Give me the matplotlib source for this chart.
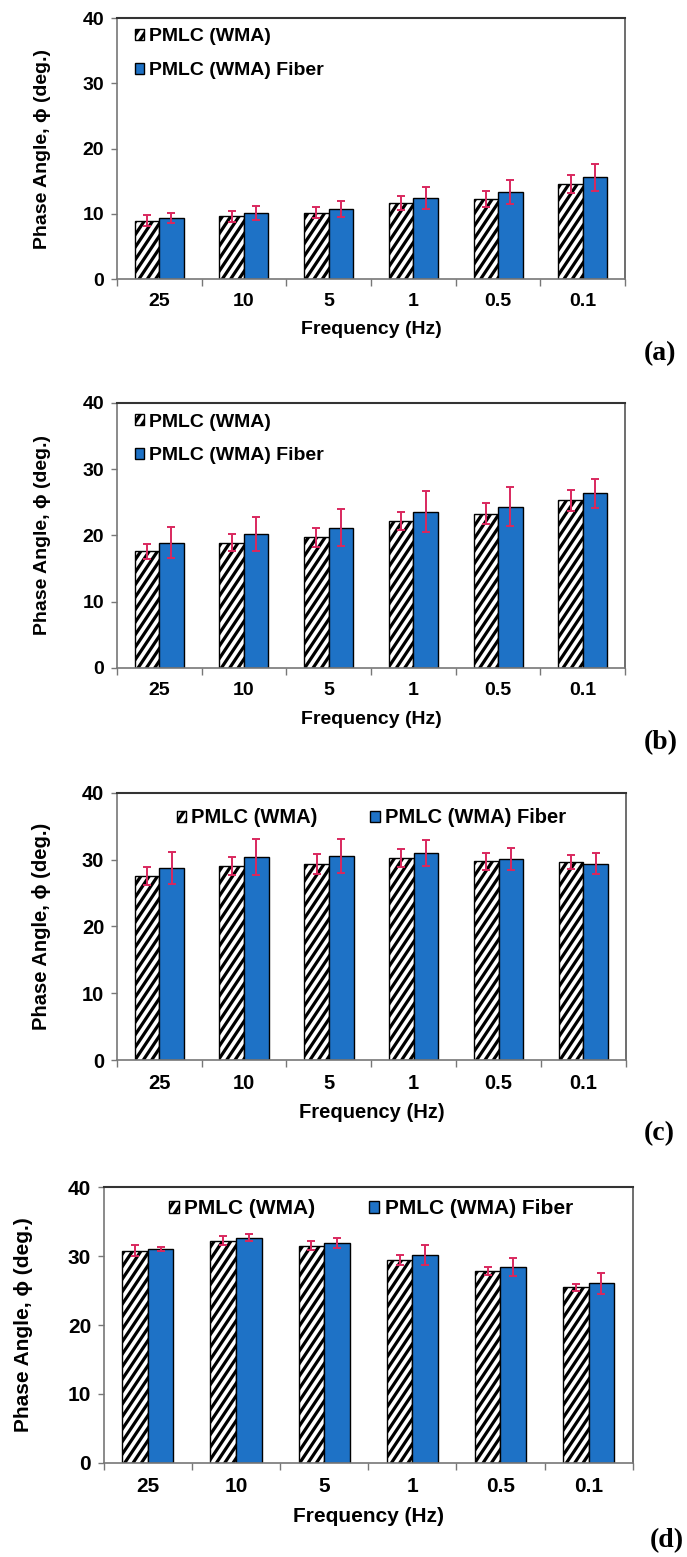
import numpy as np
import matplotlib
matplotlib.use("Agg")
import matplotlib.pyplot as plt
import matplotlib.hatch as mhatch
from matplotlib.path import Path

plt.rcParams['font.family'] = ['Liberation Sans', 'DejaVu Sans']
plt.rcParams['hatch.linewidth'] = 2.3
plt.rcParams['hatch.color'] = 'black'

# Loading frequencies (Hz)
freq_labels = ['25', '10', '5', '1', '0.5', '0.1']
series_names = ['PMLC (WMA)', 'PMLC (WMA) Fiber']

# Panel (a)
a_wma = [8.9, 9.6, 10.15, 11.7, 12.3, 14.55]
a_wma_err = [0.85, 0.85, 0.85, 1.1, 1.2, 1.4]
a_fib = [9.4, 10.15, 10.7, 12.4, 13.35, 15.6]
a_fib_err = [0.75, 1.1, 1.25, 1.7, 1.8, 2.1]

# Panel (b)
b_wma = [17.6, 18.9, 19.7, 22.2, 23.3, 25.3]
b_wma_err = [1.15, 1.3, 1.4, 1.4, 1.6, 1.55]
b_fib = [18.9, 20.25, 21.2, 23.6, 24.35, 26.35]
b_fib_err = [2.35, 2.55, 2.75, 3.1, 2.9, 2.2]

# Panel (c)
c_wma = [27.55, 29.05, 29.35, 30.25, 29.75, 29.65]
c_wma_err = [1.3, 1.4, 1.5, 1.35, 1.25, 1.1]
c_fib = [28.8, 30.45, 30.55, 31.0, 30.15, 29.4]
c_fib_err = [2.4, 2.7, 2.6, 1.9, 1.65, 1.6]

# Panel (d)
d_wma = [30.75, 32.25, 31.5, 29.45, 27.85, 25.45]
d_wma_err = [0.8, 0.6, 0.65, 0.7, 0.55, 0.5]
d_fib = [31.05, 32.65, 31.9, 30.2, 28.4, 26.05]
d_fib_err = [0.25, 0.5, 0.75, 1.45, 1.25, 1.55]

y_ticks = [0, 10, 20, 30, 40]

BLUE = '#1e72c6'
ERR = '#d9285e'


# Steeper "/" hatch (slope 1.5) that still tiles seamlessly in the unit cell
class SteepNorthEastHatch(mhatch.HatchPatternBase):
    slope = 1.5

    def __init__(self, hatch, density):
        self.num_lines = int((hatch.count('/') + hatch.count('x')
                              + hatch.count('X')) * density)
        if self.num_lines:
            self.offsets = np.arange(-self.num_lines, 2 * self.num_lines + 1) / self.num_lines
        else:
            self.offsets = np.array([])
        self.num_vertices = len(self.offsets) * 2

    def set_vertices_and_codes(self, vertices, codes):
        run = 1.0 / self.slope
        ext = 0.2
        c = self.offsets
        vertices[0::2, 0] = c - ext * run
        vertices[0::2, 1] = -ext
        vertices[1::2, 0] = c + (1 + ext) * run
        vertices[1::2, 1] = 1 + ext
        codes[0::2] = Path.MOVETO
        codes[1::2] = Path.LINETO


mhatch._hatch_types = [SteepNorthEastHatch if t is mhatch.NorthEastHatch else t
                       for t in mhatch._hatch_types]

fig = plt.figure(figsize=(6.87, 15.57), dpi=100)


def panel(rect, wma, wma_err, fib, fib_err, letter, letter_xy, legend_cfg,
          ylab_x, fs):
    ax = fig.add_axes(rect)
    x = np.arange(len(freq_labels))
    w = 0.29
    ax.bar(x - w / 2, wma, w, facecolor='white', edgecolor='black',
           linewidth=1.0, hatch='//', label=series_names[0], zorder=2)
    ax.bar(x + w / 2, fib, w, facecolor=BLUE, edgecolor='black',
           linewidth=1.0, label=series_names[1], zorder=2)
    ax.errorbar(x - w / 2, wma, yerr=wma_err, fmt='none', ecolor=ERR,
                elinewidth=1.4, capsize=2.6, capthick=1.4, zorder=3)
    ax.errorbar(x + w / 2, fib, yerr=fib_err, fmt='none', ecolor=ERR,
                elinewidth=1.4, capsize=2.6, capthick=1.4, zorder=3)

    ax.set_xlim(-0.5, len(freq_labels) - 0.5)
    ax.set_ylim(0, 40)
    ax.set_yticks(y_ticks)
    ax.set_yticklabels([str(t) for t in y_ticks], fontsize=fs, fontweight='bold')
    ax.set_xticks(x)
    ax.set_xticklabels(freq_labels, fontsize=fs, fontweight='bold')
    ax.set_xticks(np.arange(-0.5, len(freq_labels)), minor=True)
    ax.tick_params(axis='x', which='major', length=0, pad=10)
    ax.tick_params(axis='x', which='minor', length=5, width=1.0,
                   color='#777777', direction='out')
    ax.tick_params(axis='y', length=4, width=1.0, color='#777777',
                   direction='out', pad=5)

    for side in ('left', 'bottom'):
        ax.spines[side].set_color('#777777')
        ax.spines[side].set_linewidth(1.2)
    ax.spines['top'].set_color('#333333')
    ax.spines['top'].set_linewidth(1.5)
    ax.spines['right'].set_color('#555555')
    ax.spines['right'].set_linewidth(1.2)

    ax.set_ylabel('Phase Angle, \u03d5 (deg.)', fontsize=fs, fontweight='bold',
                  family=['Liberation Sans', 'DejaVu Sans'])
    ax.yaxis.set_label_coords(ylab_x, 0.5)
    ax.set_xlabel('Frequency (Hz)', fontsize=fs, fontweight='bold')
    ax.xaxis.label.set_va('center')
    ax.xaxis.set_label_coords(0.5, -0.195)

    ax.legend(frameon=False, prop={'size': fs, 'weight': 'bold'},
              handlelength=0.48, handleheight=0.48, handletextpad=0.25,
              borderpad=0, borderaxespad=0, **legend_cfg)

    fig.text(letter_xy[0], letter_xy[1], letter, fontsize=20, fontweight='bold',
             family='Liberation Serif', ha='left', va='center')
    return ax


panel([0.170, 0.8208, 0.740, 0.1676], a_wma, a_wma_err, a_fib, a_fib_err,
      '(a)', (0.937, 0.773),
      dict(loc='upper left', bbox_to_anchor=(0.036, 0.96), ncol=1, labelspacing=0.85),
      -0.13, 14)
panel([0.170, 0.5710, 0.740, 0.1702], b_wma, b_wma_err, b_fib, b_fib_err,
      '(b)', (0.937, 0.523),
      dict(loc='upper left', bbox_to_anchor=(0.036, 0.96), ncol=1, labelspacing=0.85),
      -0.13, 14)
panel([0.170, 0.3192, 0.741, 0.1715], c_wma, c_wma_err, c_fib, c_fib_err,
      '(c)', (0.937, 0.272),
      dict(loc='upper center', bbox_to_anchor=(0.50, 0.942), ncol=2, columnspacing=2.6),
      -0.13, 14.5)
panel([0.151, 0.0604, 0.770, 0.1772], d_wma, d_wma_err, d_fib, d_fib_err,
      '(d)', (0.946, 0.0103),
      dict(loc='upper center', bbox_to_anchor=(0.505, 0.955), ncol=2, columnspacing=2.6),
      -0.133, 15)

fig.savefig('out.png', dpi=100, facecolor='white')
